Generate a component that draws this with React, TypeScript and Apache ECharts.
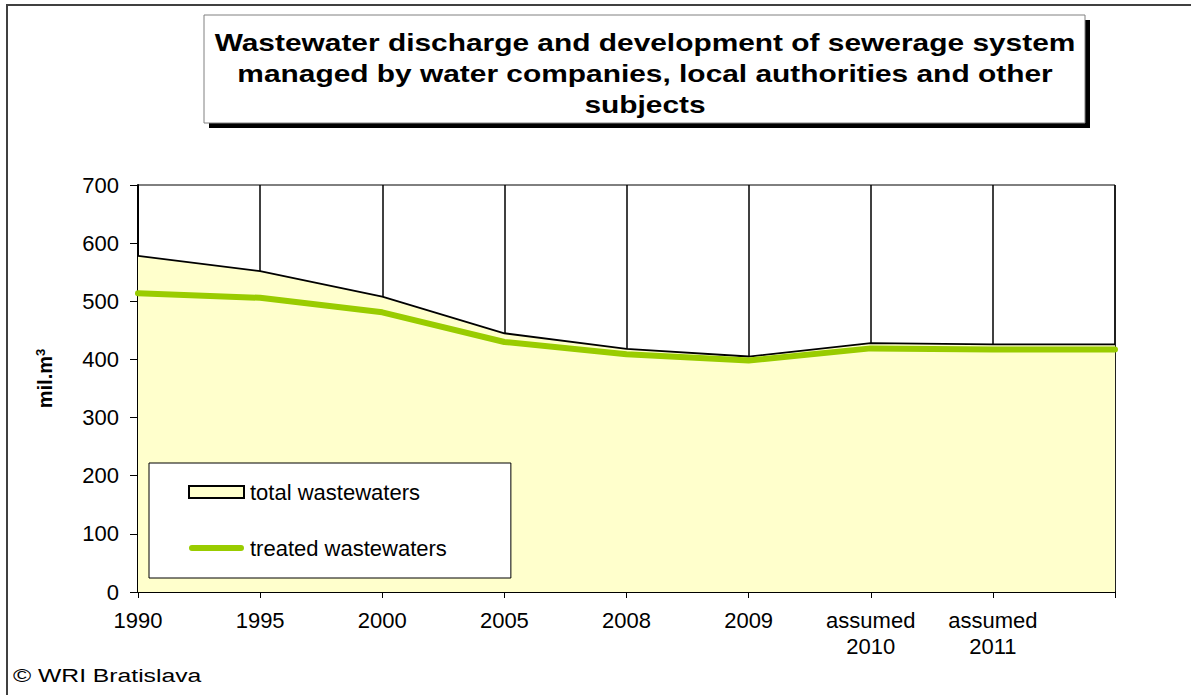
import React, { useEffect, useRef } from "react";
import * as echarts from "echarts";

// Years on the category axis (the final point carries no label)
const categories = [
  "1990",
  "1995",
  "2000",
  "2005",
  "2008",
  "2009",
  "assumed\n2010",
  "assumed\n2011",
  "",
];

// Volumes in mil. m3
const totalWastewaters = [578, 552, 508, 445, 418, 405, 428, 426, 426];
const treatedWastewaters = [514, 506, 481, 430, 409, 398, 419, 417, 417];

const yTicks = { min: 0, max: 700, interval: 100 };

const titleLines = [
  "Wastewater discharge and development of sewerage system",
  "managed by water companies, local authorities and other",
  "subjects",
];

const FONT = '"Liberation Sans", Arial, Helvetica, sans-serif';

export default function App() {
  const ref = useRef<HTMLDivElement>(null);

  useEffect(() => {
    if (!ref.current) return;
    const chart = echarts.init(ref.current, undefined, { renderer: "svg" });

    chart.setOption({
      animation: false,
      backgroundColor: "#ffffff",
      textStyle: { fontFamily: FONT },
      grid: {
        left: 138,
        right: 76,
        top: 185,
        bottom: 103,
        show: true,
        borderColor: "#000",
        borderWidth: 1,
        backgroundColor: "transparent",
      },
      legend: {
        orient: "vertical",
        left: 149,
        top: 463,
        padding: [18, 64, 19, 39],
        itemGap: 34,
        itemWidth: 55,
        itemHeight: 12,
        backgroundColor: "#ffffff",
        borderColor: "#000",
        borderWidth: 1,
        borderRadius: 0,
        selectedMode: false,
        textStyle: { fontSize: 22, color: "#000", fontFamily: FONT, padding: [0, 0, 0, 1] },
        data: [
          {
            name: "total wastewaters",
            icon: "rect",
            itemStyle: { color: "#FFFFCC", borderColor: "#000", borderWidth: 2 },
          },
          {
            name: "treated wastewaters",
            icon: "path://M3,0 L53,0 A3,3 0 0 1 53,6 L3,6 A3,3 0 0 1 3,0 Z",
            itemStyle: { color: "#99CC00", borderWidth: 0 },
          },
        ],
      },
      xAxis: {
        type: "category",
        boundaryGap: false,
        data: categories,
        axisLine: { show: true, lineStyle: { color: "#000", width: 2 } },
        axisTick: { show: true, length: 6, lineStyle: { color: "#000", width: 1 } },
        axisLabel: {
          interval: 0,
          color: "#000",
          fontSize: 22,
          fontFamily: FONT,
          margin: 15,
          lineHeight: 26,
          hideOverlap: false,
        },
        splitLine: { show: true, lineStyle: { color: "#000", width: 1.5 } },
      },
      yAxis: {
        type: "value",
        min: yTicks.min,
        max: yTicks.max,
        interval: yTicks.interval,
        axisLine: { show: true, lineStyle: { color: "#000", width: 2 } },
        axisTick: { show: true, length: 8, lineStyle: { color: "#000", width: 1 } },
        axisLabel: { color: "#000", fontSize: 22, fontFamily: FONT, margin: 19 },
        splitLine: { show: false },
        name: "{a|mil.m}{b|3}",
        nameLocation: "middle",
        nameRotate: 90,
        nameGap: 82,
        nameTextStyle: {
          padding: [0, 0, 0, 20],
          rich: {
            a: { fontSize: 20, fontWeight: "bold", color: "#000", fontFamily: FONT },
            b: {
              fontSize: 13,
              fontWeight: "bold",
              color: "#000",
              fontFamily: FONT,
              padding: [0, 0, 9, 0],
            },
          },
        },
      },
      series: [
        {
          name: "total wastewaters",
          type: "line",
          data: totalWastewaters,
          symbol: "none",
          z: 2,
          lineStyle: { color: "#000", width: 1.8 },
          itemStyle: { color: "#FFFFCC", borderColor: "#000" },
          areaStyle: { color: "#FFFFCC", opacity: 1 },
        },
        {
          name: "treated wastewaters",
          type: "line",
          data: treatedWastewaters,
          symbol: "none",
          z: 3,
          lineStyle: { color: "#99CC00", width: 6, cap: "round", join: "round" },
          itemStyle: { color: "#99CC00" },
        },
      ],
      graphic: [
        {
          type: "rect",
          silent: true,
          shape: { x: 7, y: 5, width: 1200, height: 700 },
          style: { fill: "none", stroke: "#404040", lineWidth: 2 },
        },
        {
          type: "group",
          silent: true,
          children: [
            {
              type: "rect",
              shape: { x: 209, y: 20, width: 881, height: 108 },
              style: { fill: "#000" },
            },
            {
              type: "rect",
              shape: { x: 204, y: 15, width: 881, height: 108 },
              style: { fill: "#fff", stroke: "#808080", lineWidth: 1 },
            },
            {
              type: "text",
              x: 645,
              y: 74,
              scaleX: 1.3,
              style: {
                text: titleLines.join("\n"),
                fontSize: 23,
                fontWeight: "bold",
                fontFamily: FONT,
                lineHeight: 31,
                fill: "#000",
                align: "center",
                verticalAlign: "middle",
              },
            },
          ],
        },
        {
          type: "text",
          silent: true,
          x: 13,
          y: 676,
          scaleX: 1.3,
          style: {
            text: "© WRI Bratislava",
            fontSize: 19,
            fontFamily: FONT,
            fill: "#000",
            align: "left",
            verticalAlign: "middle",
          },
        },
      ],
    });

    return () => chart.dispose();
  }, []);

  return (
    <div
      ref={ref}
      style={{ position: "absolute", left: 0, top: 0, width: 1191, height: 695, background: "#fff" }}
    />
  );
}
